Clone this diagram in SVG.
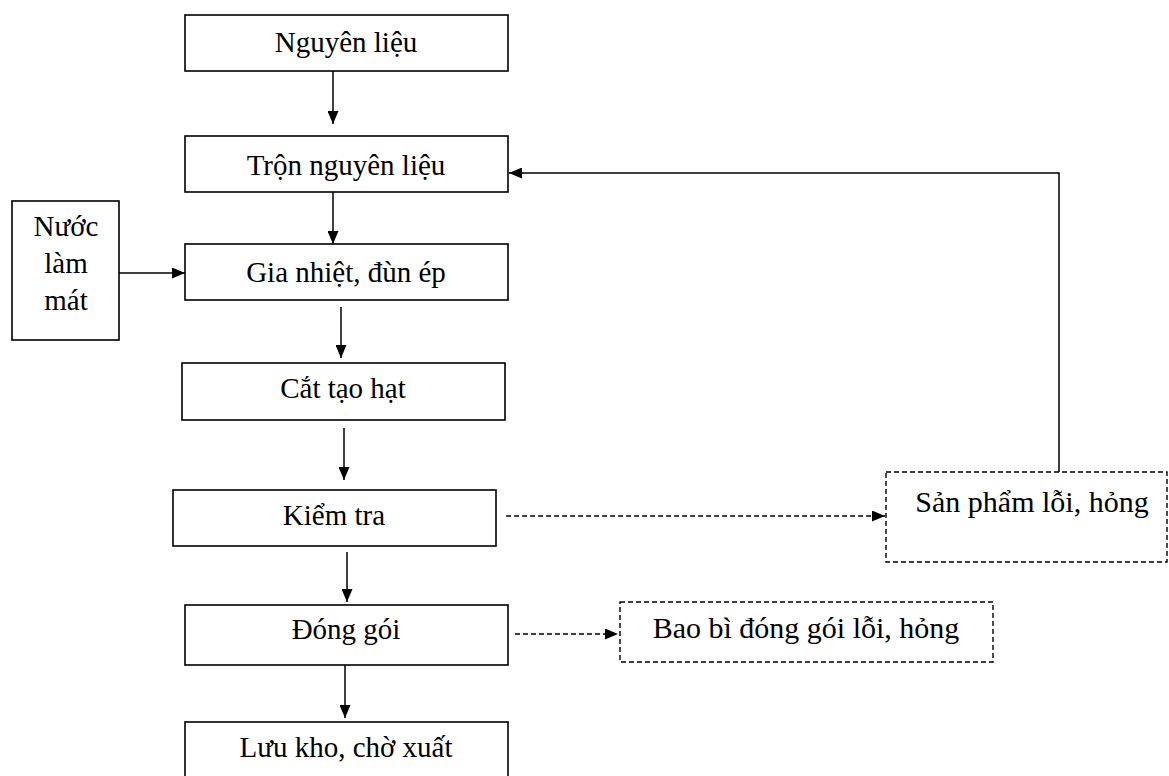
<svg xmlns="http://www.w3.org/2000/svg" width="1169" height="776" viewBox="0 0 1169 776">
<style>
.box{fill:#fff;stroke:#000;stroke-width:1.6}
.dbox{fill:#fff;stroke:#000;stroke-width:1.4;stroke-dasharray:5 3}
.ln{fill:none;stroke:#000;stroke-width:1.5}
.dl{fill:none;stroke:#000;stroke-width:1.4;stroke-dasharray:5 3}
text{font-family:"Liberation Serif","Times New Roman",serif;font-size:29px;fill:#000;text-anchor:middle}
</style>
<defs>
<marker id="ah" markerWidth="13" markerHeight="11" refX="13" refY="5.5" orient="auto" markerUnits="userSpaceOnUse">
<path d="M0,0 L13,5.5 L0,11 Z" fill="#000"/>
</marker>
</defs>
<rect width="1169" height="776" fill="#fff"/>
<g id="connectors">
<line class="ln" x1="333" y1="71" x2="333" y2="124" marker-end="url(#ah)"/>
<line class="ln" x1="333" y1="192" x2="333" y2="244" marker-end="url(#ah)"/>
<line class="ln" x1="119" y1="273" x2="185" y2="273" marker-end="url(#ah)"/>
<line class="ln" x1="341" y1="307" x2="341" y2="358" marker-end="url(#ah)"/>
<line class="ln" x1="344" y1="428" x2="344" y2="480" marker-end="url(#ah)"/>
<line class="ln" x1="347" y1="552" x2="347" y2="602" marker-end="url(#ah)"/>
<line class="ln" x1="345" y1="665" x2="345" y2="718" marker-end="url(#ah)"/>
<polyline class="ln" points="1059,472 1059,173 509,173" marker-end="url(#ah)"/>
<line class="dl" x1="506" y1="516" x2="885" y2="516" marker-end="url(#ah)"/>
<line class="dl" x1="515" y1="634" x2="618" y2="634" marker-end="url(#ah)"/>
</g>
<g id="n1"><rect class="box" x="185" y="15" width="323" height="56"/><text x="346" y="52">Nguyên liệu</text></g>
<g id="n2"><rect class="box" x="185" y="136" width="323" height="56"/><text x="346" y="175">Trộn nguyên liệu</text></g>
<g id="n3"><rect class="box" x="185" y="244" width="323" height="56"/><text x="346" y="282">Gia nhiệt, đùn ép</text></g>
<g id="n-water"><rect class="box" x="12" y="201" width="107" height="139"/><text x="66" y="236">Nước</text><text x="66" y="273">làm</text><text x="66" y="310">mát</text></g>
<g id="n4"><rect class="box" x="182" y="363" width="323" height="57"/><text x="343" y="398">Cắt tạo hạt</text></g>
<g id="n5"><rect class="box" x="173" y="490" width="323" height="56"/><text x="334" y="525">Kiểm tra</text></g>
<g id="n-defect"><rect class="dbox" x="886" y="472" width="281" height="90"/><text x="1032" y="512" style="font-size:30px">Sản phẩm lỗi, hỏng</text></g>
<g id="n6"><rect class="box" x="185" y="605" width="323" height="60"/><text x="346" y="639">Đóng gói</text></g>
<g id="n-pack"><rect class="dbox" x="620" y="602" width="373" height="60"/><text x="806" y="638" style="font-size:30px">Bao bì đóng gói lỗi, hỏng</text></g>
<g id="n7"><rect class="box" x="185" y="722" width="323" height="60"/><text x="346" y="757">Lưu kho, chờ xuất</text></g>
</svg>
